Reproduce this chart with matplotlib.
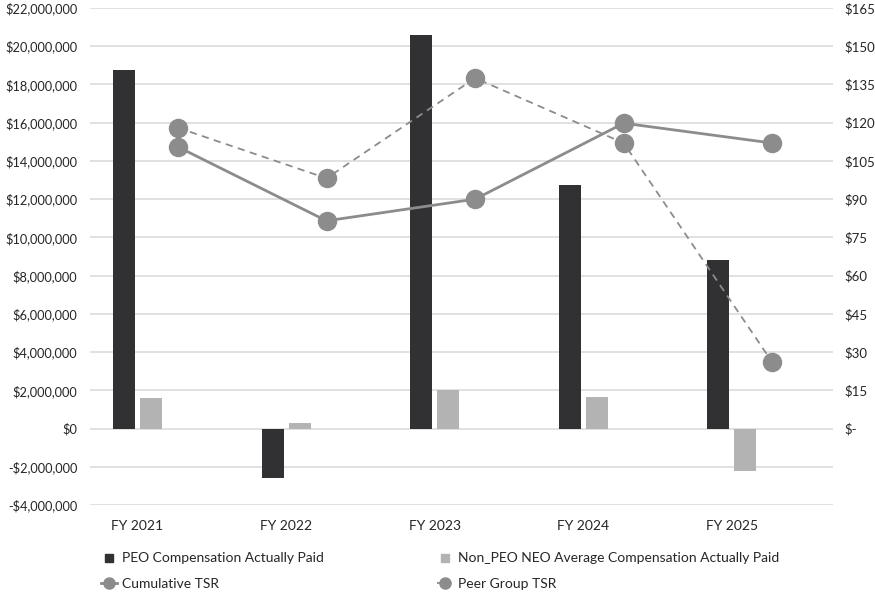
import matplotlib.pyplot as plt
from matplotlib.lines import Line2D
from matplotlib.ticker import FuncFormatter

# data
years = ["FY 2021", "FY 2022", "FY 2023", "FY 2024", "FY 2025"]
peo_cap = [18750000, -2600000, 20600000, 12750000, 8800000]
non_peo_cap = [1600000, 280000, 2000000, 1650000, -2200000]
cumulative_tsr = [110.5, 81.5, 90.0, 119.8, 112.0]
peer_tsr = [118.0, 98.2, 137.5, 112.0, 26.0]

plt.rcParams['font.family'] = ['Lato', 'DejaVu Sans']

dark = '#313133'
light = '#b3b3b3'
grey = '#8c8c8c'
txt = '#262626'

fig = plt.figure(figsize=(8.75, 5.92), dpi=100)
ax = fig.add_axes([90 / 875, 1 - 505 / 592, 743 / 875, 497 / 592])

x = list(range(len(years)))
off = 27 / 148.6
bw = 22 / 148.6

ax.bar([i - off for i in x], peo_cap, width=bw, color=dark, zorder=2)
ax.bar(x, non_peo_cap, width=bw, color=light, zorder=2)

ax.set_ylim(-4000000, 22000000)
ax.set_yticks(range(-4000000, 22000001, 2000000))


def money(v, pos):
    v = int(round(v))
    if v < 0:
        return "-${:,}".format(-v)
    return "${:,}".format(v)


ax.yaxis.set_major_formatter(FuncFormatter(money))
ax.set_xlim(-0.41, 4.59)
ax.set_xticks([i - 0.09 for i in x])
ax.set_xticklabels(years)
ax.grid(axis='y', color='#d9d9d9', lw=1.1)
ax.set_axisbelow(True)
for s in ax.spines.values():
    s.set_visible(False)
ax.tick_params(axis='both', length=0, colors=txt)
ax.tick_params(axis='y', pad=9, labelsize=9.2)
ax.tick_params(axis='x', pad=11, labelsize=10)

ax2 = ax.twinx()
ax2.set_ylim(-30, 165)
ax2.set_yticks(range(0, 166, 15))
ax2.yaxis.set_major_formatter(FuncFormatter(lambda v, p: "$-" if v == 0 else "${:d}".format(int(v))))
for s in ax2.spines.values():
    s.set_visible(False)
ax2.tick_params(axis='y', length=0, labelsize=9.5, colors=txt, pad=8)

xl = [i + off for i in x]
ax2.plot(xl, cumulative_tsr, color=grey, lw=2, marker='o', ms=13, zorder=3)
ax2.plot(xl, peer_tsr, color=grey, lw=1.3, dashes=(4, 3), marker='o', ms=13, zorder=3)

# legend, two columns
h_peo = Line2D([], [], color=dark, marker='s', ls='none', ms=6)
h_non = Line2D([], [], color=light, marker='s', ls='none', ms=6)
h_cum = Line2D([], [], color=grey, lw=2, marker='o', ms=8)
h_peer = Line2D([], [], color=grey, lw=1.3, dashes=(3, 2), marker='o', ms=8)

kw = dict(frameon=False, fontsize=10, handlelength=1.2, handletextpad=0.35,
          labelspacing=0.95, loc='upper left', labelcolor=txt)
fig.legend([h_peo, h_cum], ["PEO Compensation Actually Paid", "Cumulative TSR"],
           bbox_to_anchor=(88 / 875, 1 - 540 / 592), **kw)
fig.legend([h_non, h_peer], ["Non_PEO NEO Average Compensation Actually Paid", "Peer Group TSR"],
           bbox_to_anchor=(424 / 875, 1 - 540 / 592), **kw)

fig.savefig("out.png", dpi=100)
